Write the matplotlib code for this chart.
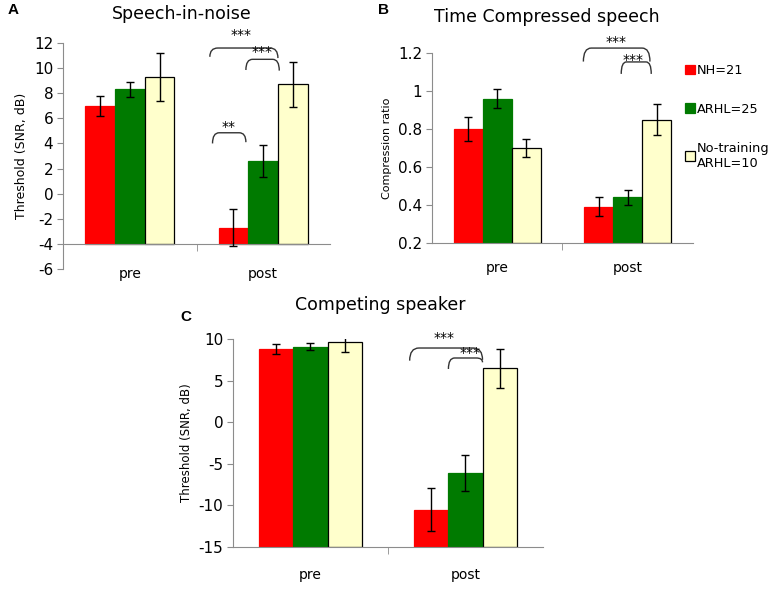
import numpy as np
import matplotlib
matplotlib.use("Agg")
import matplotlib.pyplot as plt
from matplotlib.path import Path
from matplotlib.patches import PathPatch

# ---- data ----
groups = ["pre", "post"]
series = ["NH=21", "ARHL=25", "No-training\nARHL=10"]
colors = ["#ff0000", "#007a00", "#ffffcc"]

sin_nh = [7.0, -2.7]
sin_nh_err = [0.8, 1.5]
sin_arhl = [8.3, 2.6]
sin_arhl_err = [0.6, 1.25]
sin_nt = [9.3, 8.7]
sin_nt_err = [1.9, 1.8]

tcs_nh = [0.80, 0.39]
tcs_nh_err = [0.062, 0.05]
tcs_arhl = [0.96, 0.44]
tcs_arhl_err = [0.05, 0.04]
tcs_nt = [0.70, 0.85]
tcs_nt_err = [0.045, 0.082]

cs_nh = [8.8, -10.5]
cs_nh_err = [0.55, 2.6]
cs_arhl = [9.1, -6.1]
cs_arhl_err = [0.45, 2.2]
cs_nt = [9.7, 6.5]
cs_nt_err = [1.3, 2.35]

FONT = "DejaVu Sans"
AXCOL = "#8c8c8c"
BAR_W = 0.223


def bracket(ax, x0, x1, ytop, yl, yr, r=0.06):
    verts = [(x0, yl), (x0, ytop), (x0 + r, ytop), (x1 - r, ytop), (x1, ytop), (x1, yr)]
    codes = [Path.MOVETO, Path.CURVE3, Path.CURVE3, Path.LINETO, Path.CURVE3, Path.CURVE3]
    ax.add_patch(PathPatch(Path(verts, codes), fill=False, edgecolor="#333333",
                           linewidth=1.0, clip_on=False))


def draw_panel(ax, means, errs, base, ylim, yticks, ylabel, ylabel_size, label_pad):
    x = np.arange(len(groups))
    offsets = [-BAR_W, 0, BAR_W]
    handles = []
    for k in range(3):
        m = np.array(means[k])
        ec = "black" if k == 2 else colors[k]
        b = ax.bar(x + offsets[k], m - base, BAR_W, bottom=base, color=colors[k],
                   edgecolor=ec, linewidth=0.9, label=series[k], zorder=2)
        handles.append(b)
        ax.errorbar(x + offsets[k], m, yerr=errs[k], fmt="none", ecolor="black",
                    elinewidth=1.0, capsize=3, capthick=1.0, zorder=3)
    ax.set_xlim(-0.5, 1.5)
    ax.set_ylim(*ylim)
    ax.set_yticks(yticks)
    ax.set_yticklabels([f"{t:g}" for t in yticks], fontsize=11, family=FONT)
    ax.set_xticks(x)
    ax.set_xticklabels(groups, fontsize=12.5, family=FONT)
    ax.set_xticks([0.5], minor=True)
    ax.tick_params(axis="x", which="major", length=0, pad=label_pad)
    ax.tick_params(axis="x", which="minor", length=5, color=AXCOL, direction="out")
    ax.tick_params(axis="y", length=4, color=AXCOL, direction="out", pad=3)
    for s in ["top", "right"]:
        ax.spines[s].set_visible(False)
    ax.spines["left"].set_color(AXCOL)
    ax.spines["bottom"].set_color(AXCOL)
    ax.spines["bottom"].set_position(("data", base))
    ax.set_ylabel(ylabel, fontsize=ylabel_size, family=FONT, labelpad=4)
    return handles


fig = plt.figure(figsize=(7.75, 5.89), dpi=100)

# ---- A ----
axA = fig.add_axes([0.0813, 0.5433, 0.3445, 0.3837])
draw_panel(axA, [sin_nh, sin_arhl, sin_nt], [sin_nh_err, sin_arhl_err, sin_nt_err],
           -4, (-6, 12), np.arange(-6, 13, 2), "Threshold (SNR, dB)", 9, 17)
fig.text(182 / 775, 1 - 14 / 589, "Speech-in-noise", ha="center", va="center",
         fontsize=12.5, family=FONT)
bracket(axA, 0.62, 0.87, 4.85, 4.0, 4.1, r=0.05)
axA.text(0.74, 5.3, "**", ha="center", va="center", fontsize=10, clip_on=False)
bracket(axA, 0.60, 1.11, 11.6, 10.9, 10.8, r=0.06)
axA.text(0.83, 12.6, "***", ha="center", va="center", fontsize=10, clip_on=False)
bracket(axA, 0.87, 1.12, 10.7, 9.85, 9.8, r=0.05)
axA.text(0.99, 11.3, "***", ha="center", va="center", fontsize=10, clip_on=False)

# ---- B ----
axB = fig.add_axes([0.5574, 0.5874, 0.3368, 0.3226])
hB = draw_panel(axB, [tcs_nh, tcs_arhl, tcs_nt], [tcs_nh_err, tcs_arhl_err, tcs_nt_err],
                0.2, (0.2, 1.2), [0.2, 0.4, 0.6, 0.8, 1.0, 1.2], "Compression ratio", 8, 13)
fig.text(547 / 775, 1 - 17 / 589, "Time Compressed speech", ha="center", va="center",
         fontsize=12.5, family=FONT)
bracket(axB, 0.66, 1.17, 1.226, 1.155, 1.155, r=0.06)
axB.text(0.91, 1.258, "***", ha="center", va="center", fontsize=10, clip_on=False)
bracket(axB, 0.95, 1.18, 1.153, 1.09, 1.09, r=0.04)
axB.text(1.04, 1.165, "***", ha="center", va="center", fontsize=10, clip_on=False)
axB.legend(handles=hB, labels=series, loc="upper left", bbox_to_anchor=(0.95, 0.97),
           frameon=False, handlelength=0.75, handleheight=0.75, handletextpad=0.15,
           labelspacing=2.0, prop={"family": FONT, "size": 9.3}, borderaxespad=0)

# ---- C ----
axC = fig.add_axes([0.3006, 0.0713, 0.4, 0.3531])
draw_panel(axC, [cs_nh, cs_arhl, cs_nt], [cs_nh_err, cs_arhl_err, cs_nt_err],
           -15, (-15, 10), [-15, -10, -5, 0, 5, 10], "Threshold (SNR, dB)", 8.5, 15)
fig.text(380 / 775, 1 - 305 / 589, "Competing speaker", ha="center", va="center",
         fontsize=12.5, family=FONT)
bracket(axC, 0.64, 1.11, 8.92, 7.4, 7.5, r=0.06)
axC.text(0.86, 10.1, "***", ha="center", va="center", fontsize=10, clip_on=False)
bracket(axC, 0.89, 1.11, 7.72, 6.4, 7.2, r=0.04)
axC.text(1.03, 8.3, "***", ha="center", va="center", fontsize=10, clip_on=False)

# panel letters
for lab, px, py in [("A", 8, 10), ("B", 378, 10), ("C", 180, 317)]:
    fig.text(px / 775, 1 - py / 589, lab, ha="left", va="center", fontsize=11,
             fontweight="bold", family="Liberation Sans")

fig.savefig("out.png", dpi=100)
